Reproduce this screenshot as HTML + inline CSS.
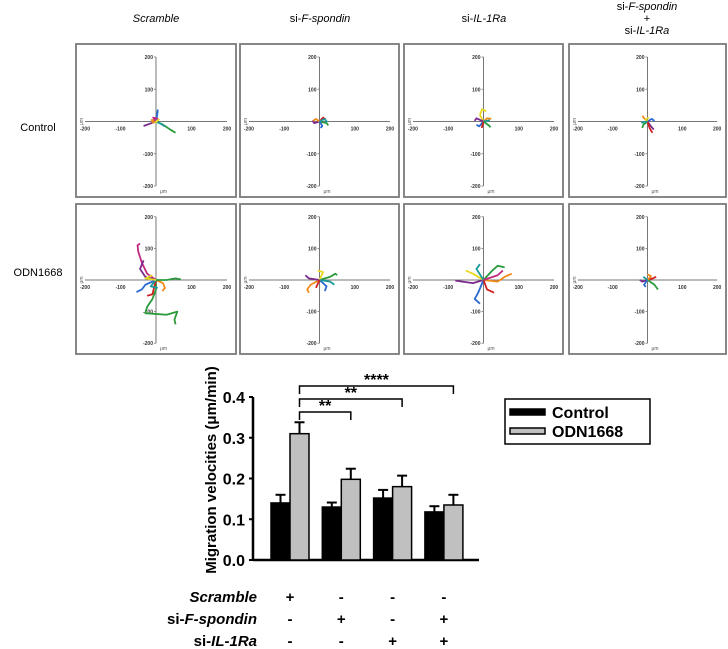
<!DOCTYPE html>
<html><head><meta charset="utf-8">
<style>
body{margin:0;background:#fff;}
svg{display:block;font-family:"Liberation Sans",sans-serif;}
</style></head>
<body>
<svg id="fig" width="728" height="649" viewBox="0 0 728 649">
<g id="titles" font-size="11" text-anchor="middle" fill="#000">
<text x="156" y="22" font-style="italic">Scramble</text>
<text x="320" y="22">si-<tspan font-style="italic">F-spondin</tspan></text>
<text x="484" y="22">si-<tspan font-style="italic">IL-1Ra</tspan></text>
<text x="647" y="10">si-<tspan font-style="italic">F-spondin</tspan></text>
<text x="647" y="22">+</text>
<text x="647" y="34">si-<tspan font-style="italic">IL-1Ra</tspan></text>
<text x="38" y="131">Control</text>
<text x="38" y="276">ODN1668</text>
</g>
<g id="panels"></g>
<g id="bars"></g>
</svg>
<script>
// ---- track data (um) ----
const trackColors = ["#7b2a8c","#2a9a3a","#2a6ad0","#f08a1a","#e8d820","#d02020","#1a9a9a","#c02a80","#8a5a20"];
const panelTracks = [
 [[0,[[0,0],[-20,-8],[-35,-14]]],[1,[[0,0],[20,-10],[40,-25],[55,-35]]],[2,[[0,0],[5,35],[2,10]]],[3,[[0,0],[-12,5],[-8,-6]]],[6,[[0,0],[15,-8],[25,-15]]],[7,[[0,0],[-8,12],[6,8]]],[4,[[0,0],[8,6],[-4,-5]]]],
 [[0,[[0,0],[-15,-5],[-20,3]]],[1,[[0,0],[20,-5],[25,-12]]],[5,[[0,0],[10,12],[18,6]]],[3,[[0,0],[-10,8],[-18,2]]],[2,[[0,0],[8,-14],[3,-20]]],[6,[[0,0],[14,8],[22,-2]]]],
 [[4,[[0,0],[-10,20],[-4,38],[8,32]]],[0,[[0,0],[-20,10],[-25,2]]],[2,[[0,0],[-12,-15],[-20,-10]]],[1,[[0,0],[15,-12],[20,-18]]],[3,[[0,0],[10,10],[22,8]]],[5,[[0,0],[-5,-20]]],[6,[[0,0],[18,4]]]],
 [[0,[[0,0],[10,-15],[18,-25]]],[1,[[0,0],[-12,-10],[-15,-20]]],[3,[[0,0],[-10,10],[-14,18]]],[2,[[0,0],[12,8],[20,2]]],[5,[[0,0],[6,-20],[14,-35]]],[4,[[0,0],[-6,6],[4,12]]],[6,[[0,0],[-18,-4]]]],
 [[7,[[0,0],[-25,20],[-40,55],[-50,90],[-52,110],[-45,115]]],[1,[[0,0],[0,-30],[-10,-60],[-25,-85],[-30,-105],[30,-110],[60,-100],[52,-125],[55,-140]]],[2,[[0,0],[-30,-15],[-40,-30],[-55,-38]]],[0,[[0,0],[-30,10],[-45,35],[-35,62]]],[3,[[0,0],[20,-10],[25,-25],[18,-35]]],[5,[[0,0],[-10,-45],[-25,-50]]],[1,[[0,0],[30,0],[55,5],[70,2]]],[6,[[0,0],[-15,-20],[5,-25]]],[4,[[0,0],[-30,5],[-10,15]]]],
 [[1,[[0,0],[30,10],[45,20],[50,15]]],[3,[[0,0],[-25,-15],[-35,-30],[-30,-40]]],[2,[[0,0],[20,-20],[15,-35]]],[0,[[0,0],[-30,5],[-40,15]]],[4,[[0,0],[10,25],[-5,30]]],[6,[[0,0],[30,-5],[42,-15]]],[5,[[0,0],[-10,-25]]]],
 [[3,[[0,0],[40,-5],[60,10],[80,20]]],[0,[[0,0],[-30,-10],[-60,-5],[-80,-2]]],[1,[[0,0],[25,30],[40,45],[60,40]]],[2,[[0,0],[-15,-40],[-25,-60],[-10,-75]]],[4,[[0,0],[-30,20],[-50,30]]],[5,[[0,0],[10,-30],[30,-40]]],[6,[[0,0],[-20,35],[-10,50]]],[7,[[0,0],[40,15],[55,30]]]],
 [[5,[[0,0],[15,5],[25,10]]],[0,[[0,0],[-15,-5],[-22,0]]],[1,[[0,0],[20,-15],[30,-30]]],[2,[[0,0],[-10,-15],[-5,-22]]],[3,[[0,0],[10,12],[0,18]]],[6,[[0,0],[-12,10]]]]
];
const axisTicks = [200,100,-100,-200];
// ---- bar data ----
const groups = ["Scramble","si-F-spondin","si-IL-1Ra","si-F-spondin + si-IL-1Ra"];
const controlVals = [0.140,0.130,0.152,0.118];
const controlErr = [0.020,0.011,0.020,0.014];
const odnVals = [0.310,0.198,0.180,0.135];
const odnErr = [0.028,0.026,0.027,0.025];
const yTicks = [0.0,0.1,0.2,0.3,0.4];
const scrambleRow = ["+","-","-","-"];
const spondinRow = ["-","+","-","+"];
const il1raRow = ["-","-","+","+"];
const sigPairs = [[0,1,"**"],[0,2,"**"],[0,3,"****"]];

const NS="http://www.w3.org/2000/svg";
function mk(tag,attrs,parent,txt){const e=document.createElementNS(NS,tag);for(const k in attrs)e.setAttribute(k,attrs[k]);if(txt!==undefined)e.textContent=txt;parent.appendChild(e);return e;}

const cols=[[76,236],[240,399],[404,563],[569,726]];
const rows=[[44,197],[204,354]];
const pg=document.getElementById('panels');
panelTracks.forEach((tracks,i)=>{
  const c=cols[i%4], r=rows[Math.floor(i/4)];
  const W=c[1]-c[0], H=r[1]-r[0];
  const cx=c[0]+W/2, cy=r[0]+H/2+1;
  const sx=142/400*(W/160), sy=129/400*(H/153);
  const X=v=>cx+v*sx, Y=v=>cy-v*sy;
  const g=mk('g',{},pg);
  
  
  const b=mk('rect',{x:c[0],y:r[0],width:W,height:H,fill:'#fff',stroke:'#7a7a7a','stroke-width':1.8},g);
  
  
  mk('line',{x1:X(-200),y1:cy,x2:X(200),y2:cy,stroke:'#777','stroke-width':1},g);
  mk('line',{x1:cx,y1:Y(200),x2:cx,y2:Y(-200),stroke:'#777','stroke-width':1},g);
  axisTicks.forEach(t=>{
    const tx=mk('text',{x:X(t),y:cy+9,'font-size':5,'font-weight':'bold','text-anchor':'middle',fill:'#333'},g,String(t));
    
    
    const ty=mk('text',{x:cx-3,y:Y(t)+2,'font-size':5,'font-weight':'bold','text-anchor':'end',fill:'#333'},g,String(t));
    
    
    mk('line',{x1:cx-2,y1:Y(t),x2:cx,y2:Y(t),stroke:'#777','stroke-width':0.8},g);
  });
  mk('text',{x:cx+4,y:Y(-200)+7,'font-size':5,fill:'#555'},g,'μm');
  mk('text',{x:c[0]+7,y:cy,'font-size':5,fill:'#555',transform:`rotate(-90 ${c[0]+7} ${cy})`,'text-anchor':'middle'},g,'μm');
  tracks.forEach(t=>{
    const p=mk('polyline',{points:t[1].map(q=>X(q[0])+','+Y(q[1])).join(' '),fill:'none',stroke:trackColors[t[0]],'stroke-width':1.8,'stroke-linejoin':'round'},g);
    
    
  });
});

// ---- bar chart ----
const bg=document.getElementById('bars');
const y0=560, pxPer=407.5, axX=253;
const yS=v=>y0-v*pxPer;
const gx=i=>290+i*51.3;
const bw=19;
mk('line',{x1:axX,y1:yS(0.4),x2:axX,y2:y0+1,stroke:'#000','stroke-width':2.5},bg);
mk('line',{x1:axX,y1:y0,x2:479,y2:y0,stroke:'#000','stroke-width':2.5},bg);
yTicks.forEach(t=>{
  mk('line',{x1:axX-4,y1:yS(t),x2:axX,y2:yS(t),stroke:'#000','stroke-width':2},bg);
  const tl=mk('text',{x:axX-8,y:yS(t)+6,'font-size':16,'font-weight':'bold','text-anchor':'end'},bg,t.toFixed(1));
  
  
});
const yt=mk('text',{x:216,y:470,'font-size':15,'font-weight':'bold','text-anchor':'middle',transform:'rotate(-90 216 470)'},bg,'Migration velocities (μm/min)');


function bar(x,v,e,fill,name){
  const top=yS(v+e);
  mk('line',{x1:x+bw/2,y1:yS(v),x2:x+bw/2,y2:top,stroke:'#000','stroke-width':2},bg);
  mk('line',{x1:x+bw/2-5,y1:top,x2:x+bw/2+5,y2:top,stroke:'#000','stroke-width':2},bg);
  const r=mk('rect',{x:x,y:yS(v),width:bw,height:y0-yS(v),fill:fill,stroke:'#000','stroke-width':1.5},bg);
  
  
}
groups.forEach((g,i)=>{
  bar(gx(i)-bw,controlVals[i],controlErr[i],'#000','bar-control-'+(i+1));
  bar(gx(i),odnVals[i],odnErr[i],'#c0c0c0','bar-odn1668-'+(i+1));
});
const bracketY=[412,399,386];
sigPairs.forEach((p,k)=>{
  const x1=gx(p[0])+bw/2, x2=gx(p[1])+bw/2, y=bracketY[k];
  const pl=mk('polyline',{points:`${x1},${y+8} ${x1},${y} ${x2},${y} ${x2},${y+8}`,fill:'none',stroke:'#000','stroke-width':1.5},bg);
  
  
  const st=mk('text',{x:(x1+x2)/2,y:y-1,'font-size':16,'font-weight':'bold','text-anchor':'middle'},bg,p[2]);
  
  
});
// legend
const lg=mk('g',{},bg);


mk('rect',{x:505,y:399,width:145,height:45,fill:'#fff',stroke:'#000','stroke-width':1.5},lg);
mk('rect',{x:510,y:409,width:35,height:6,fill:'#000',stroke:'#000','stroke-width':1.5},lg);
mk('rect',{x:510,y:428,width:35,height:6,fill:'#c0c0c0',stroke:'#000','stroke-width':1.5},lg);
const l1=mk('text',{x:552,y:418,'font-size':16,'font-weight':'bold'},lg,'Control');


const l2=mk('text',{x:552,y:437,'font-size':16,'font-weight':'bold'},lg,'ODN1668');


// condition table
const tRows=[scrambleRow,spondinRow,il1raRow];
const tY=[602,624,646];
const labs=[['',"Scramble",''],['si-','F-spondin',''],['si-','IL-1Ra','']];
tRows.forEach((row,j)=>{
  const t=mk('text',{x:257,y:tY[j],'font-size':15,'font-weight':'bold','text-anchor':'end'},bg);
  
  
  if(labs[j][0])mk('tspan',{},t,labs[j][0]);
  mk('tspan',{'font-style':'italic'},t,labs[j][1]);
  row.forEach((s,i)=>{
    const c=mk('text',{x:gx(i),y:tY[j],'font-size':15,'font-weight':'bold','text-anchor':'middle'},bg,s);
    
    
  });
});
</script>
</body></html>
